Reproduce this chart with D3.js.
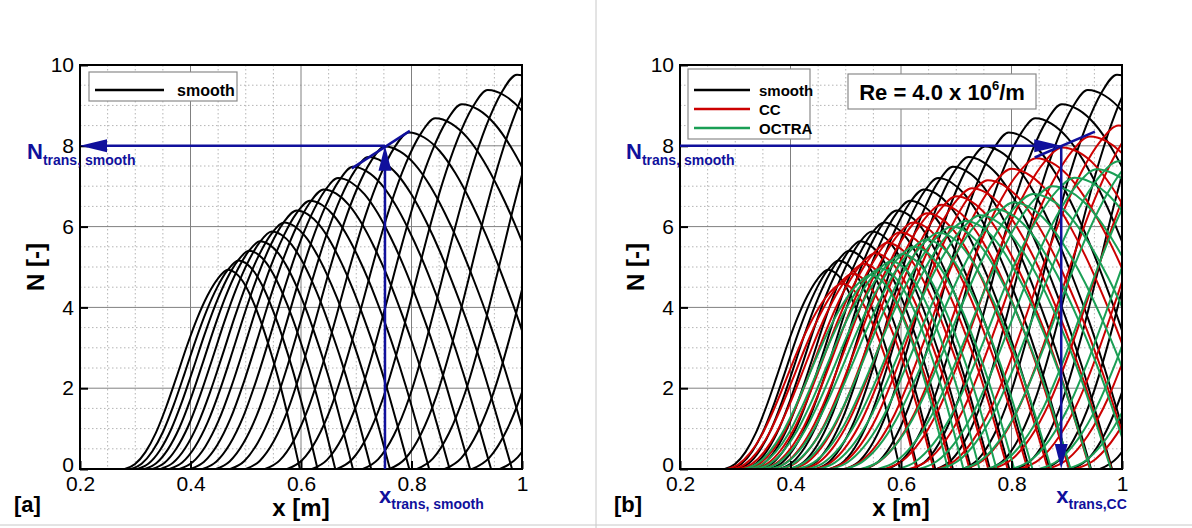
<!DOCTYPE html>
<html><head><meta charset="utf-8">
<script src="https://cdn.jsdelivr.net/npm/d3@7"></script>
<style>
body{margin:0;background:#fff}
svg{display:block}
text{font-family:"Liberation Sans",Arial,Helvetica,sans-serif}
</style>
</head><body>
<svg id="c" width="1192" height="528"></svg>
<script>
// ---------------- data ----------------
const xTicks = [0.2, 0.4, 0.6, 0.8, 1.0];
const xTickLabels = ["0.2", "0.4", "0.6", "0.8", "1"];
const yTicks = [0, 2, 4, 6, 8, 10];
const yTickLabels = ["0", "2", "4", "6", "8", "10"];

// each curve: [start x (N=0), peak x, peak N, end x (N=0)]
const smoothCurves = [
  [0.281,0.468,4.93,0.598],[0.292,0.487,5.16,0.630],[0.304,0.506,5.40,0.662],
  [0.317,0.526,5.64,0.694],[0.331,0.547,5.88,0.727],[0.346,0.569,6.10,0.761],
  [0.362,0.592,6.40,0.796],[0.380,0.616,6.64,0.832],[0.400,0.641,6.92,0.869],
  [0.422,0.667,7.20,0.906],[0.446,0.694,7.48,0.944],[0.472,0.722,7.72,0.982],
  [0.500,0.752,7.98,1.022],[0.535,0.795,8.33,1.075],[0.575,0.843,8.68,1.133],
  [0.620,0.891,9.03,1.191],[0.665,0.938,9.38,1.248],[0.712,0.991,9.76,1.311],
  [0.760,1.045,10.12,1.375],[0.810,1.100,10.48,1.440],[0.860,1.160,10.85,1.510],
  [0.910,1.220,11.20,1.580],[0.960,1.280,11.55,1.650]
];
const ccCurves = [
  [0.285,0.493,4.59,0.628],[0.296,0.512,4.83,0.659],[0.308,0.532,5.08,0.691],
  [0.321,0.553,5.34,0.724],[0.335,0.575,5.60,0.758],[0.350,0.598,5.86,0.793],
  [0.366,0.622,6.10,0.829],[0.384,0.647,6.33,0.866],[0.403,0.673,6.54,0.904],
  [0.424,0.700,6.75,0.942],[0.446,0.728,6.95,0.981],[0.470,0.757,7.15,1.021],
  [0.497,0.800,7.43,1.075],[0.530,0.845,7.69,1.130],[0.570,0.892,7.96,1.187],
  [0.615,0.942,8.23,1.247],[0.665,0.994,8.50,1.309],[0.715,1.050,8.80,1.375],
  [0.765,1.110,9.10,1.445],[0.815,1.170,9.40,1.515],[0.865,1.230,9.70,1.585],
  [0.915,1.290,10.00,1.655]
];
const octraCurves = [
  [0.315,0.545,4.80,0.685],[0.326,0.563,4.96,0.713],[0.338,0.582,5.14,0.742],
  [0.351,0.602,5.32,0.773],[0.365,0.623,5.50,0.805],[0.380,0.645,5.68,0.838],
  [0.396,0.668,5.85,0.872],[0.413,0.692,6.00,0.907],[0.431,0.717,6.14,0.943],
  [0.451,0.743,6.28,0.980],[0.473,0.771,6.43,1.019],[0.498,0.804,6.60,1.064],
  [0.527,0.839,6.81,1.111],[0.558,0.874,7.00,1.158],[0.594,0.914,7.21,1.210],
  [0.632,0.954,7.42,1.261],[0.670,0.994,7.62,1.312],[0.710,1.040,7.85,1.370],
  [0.755,1.090,8.10,1.430],[0.800,1.140,8.35,1.490],[0.850,1.200,8.65,1.560],
  [0.900,1.260,8.95,1.630]
];
// normalised curve shape: [fraction of branch width, N / peak N]
const riseProfile = [[0,0],[0.1,0.025],[0.2,0.085],[0.3,0.18],[0.4,0.31],[0.5,0.46],
  [0.6,0.615],[0.7,0.755],[0.8,0.87],[0.9,0.955],[1,1]];
const fallProfile = [[0,1],[0.1,0.985],[0.2,0.945],[0.3,0.88],[0.4,0.795],[0.5,0.695],
  [0.6,0.58],[0.7,0.455],[0.8,0.315],[0.9,0.16],[1,0]];

const legendA = ["smooth"];
const legendB = ["smooth", "CC", "OCTRA"];
const transA = {x: 0.752, N: 8, tangent: [[0.692, 7.44], [0.797, 8.37]]};
const transB = {x: 0.890, N: 8, tangent: [[0.842, 7.71], [0.951, 8.35]]};

// ---------------- drawing ----------------
const svg = d3.select("#c");
const COL = {smooth: "#000000", CC: "#cc0000", OCTRA: "#1a9f55"};
const BLUE = "#10109c";
const FONT = '"Liberation Sans",Arial,Helvetica,sans-serif';

svg.append("rect").attr("width", 1192).attr("height", 528).attr("fill", "#fff");
svg.append("line").attr("x1", 596).attr("x2", 596).attr("y1", 0).attr("y2", 528)
  .attr("stroke", "#c8c8c8").attr("stroke-width", 1);
svg.append("line").attr("x1", 0).attr("x2", 1192).attr("y1", 525).attr("y2", 525)
  .attr("stroke", "#c8c8c8").attr("stroke-width", 1);

function curvePoints(c) {
  const [x0, xp, np, x1] = c;
  const pts = riseProfile.map(([u, v]) => [x0 + u * (xp - x0), v * np]);
  fallProfile.slice(1).forEach(([u, v]) => pts.push([xp + u * (x1 - xp), v * np]));
  return pts;
}

function arrow(g, tip, dir, len, hw) {
  const [tx, ty] = tip;
  let pts;
  if (dir === "left") pts = [[tx, ty], [tx + len, ty - hw], [tx + len, ty + hw]];
  if (dir === "right") pts = [[tx, ty], [tx - len, ty - hw], [tx - len, ty + hw]];
  if (dir === "up") pts = [[tx, ty], [tx - hw, ty + len], [tx + hw, ty + len]];
  if (dir === "down") pts = [[tx, ty], [tx - hw, ty - len], [tx + hw, ty - len]];
  g.append("polygon").attr("points", pts.map(p => p.join(",")).join(" ")).attr("fill", BLUE);
}

function panel(opt) {
  const L = opt.left, R = opt.right, T = 65, B = 469;
  const x = d3.scaleLinear().domain([0.2, 1]).range([L, R]);
  const y = d3.scaleLinear().domain([0, 10]).range([B, T]);
  const g = svg.append("g");
  const id = "clip" + opt.key;
  svg.append("clipPath").attr("id", id).append("rect")
    .attr("x", L).attr("y", T).attr("width", R - L).attr("height", B - T);

  // minor grid
  const minorX = d3.range(0.25, 1.0, 0.05).filter(v => Math.abs(v / 0.2 - Math.round(v / 0.2)) > 1e-6);
  const minorY = d3.range(0.5, 10, 0.5).filter(v => Math.abs(v / 2 - Math.round(v / 2)) > 1e-6);
  g.selectAll(null).data(minorX).join("line")
    .attr("x1", d => x(d)).attr("x2", d => x(d)).attr("y1", T).attr("y2", B)
    .attr("stroke", "#b4b4b4").attr("stroke-width", 1).attr("stroke-dasharray", "1.5,2.5");
  g.selectAll(null).data(minorY).join("line")
    .attr("y1", d => y(d)).attr("y2", d => y(d)).attr("x1", L).attr("x2", R)
    .attr("stroke", "#b4b4b4").attr("stroke-width", 1).attr("stroke-dasharray", "1.5,2.5");
  // major grid
  g.selectAll(null).data(xTicks.slice(1, -1)).join("line")
    .attr("x1", d => x(d)).attr("x2", d => x(d)).attr("y1", T).attr("y2", B)
    .attr("stroke", "#808080").attr("stroke-width", 1);
  g.selectAll(null).data(yTicks.slice(1, -1)).join("line")
    .attr("y1", d => y(d)).attr("y2", d => y(d)).attr("x1", L).attr("x2", R)
    .attr("stroke", "#808080").attr("stroke-width", 1);

  // curves
  const line = d3.line().x(d => x(d[0])).y(d => y(d[1])).curve(d3.curveMonotoneX);
  const cg = g.append("g").attr("clip-path", `url(#${id})`);
  opt.families.forEach(f => {
    cg.append("g").selectAll("path").data(f.curves).join("path")
      .attr("d", c => line(curvePoints(c)))
      .attr("fill", "none").attr("stroke", COL[f.name]).attr("stroke-width", 2);
  });

  // frame
  g.append("rect").attr("x", L).attr("y", T).attr("width", R - L).attr("height", B - T)
    .attr("fill", "none").attr("stroke", "#000").attr("stroke-width", 2);

  // axes
  const ax = g.append("g").attr("transform", `translate(0,${B})`)
    .call(d3.axisBottom(x).tickValues(xTicks).tickFormat((d, i) => xTickLabels[i])
      .tickSizeInner(-8).tickSizeOuter(0).tickPadding(7));
  const ay = g.append("g").attr("transform", `translate(${L},0)`)
    .call(d3.axisLeft(y).tickValues(yTicks).tickFormat((d, i) => yTickLabels[i])
      .tickSizeInner(-8).tickSizeOuter(0).tickPadding(6));
  [ax, ay].forEach(a => {
    a.select(".domain").remove();
    a.selectAll(".tick line").attr("stroke", "#000").attr("stroke-width", 2);
    a.selectAll("text").attr("font-family", FONT).attr("font-size", 21).attr("fill", "#000");
  });
  ay.selectAll(".tick").filter(d => d === 0).select("text").attr("dy", "0.1em");

  // titles
  g.append("text").attr("x", (L + R) / 2).attr("y", 516).attr("text-anchor", "middle")
    .attr("font-size", 24).attr("font-weight", "bold").text("x [m]");
  g.append("text").attr("transform", `translate(${L - 36},${(T + B) / 2}) rotate(-90)`)
    .attr("text-anchor", "middle").attr("font-size", 24).attr("font-weight", "bold").text("N [-]");
  g.append("text").attr("x", L - 66).attr("y", 512).attr("font-size", 22)
    .attr("font-weight", "bold").text(opt.tag);

  // legend
  const lg = g.append("g");
  const items = opt.legend;
  const lx = L + opt.legendDX, ly = T + opt.legendDY, lw = opt.legendW, lh = opt.legendH;
  lg.append("rect").attr("x", lx).attr("y", ly).attr("width", lw).attr("height", lh)
    .attr("fill", "#fff").attr("stroke", "#8a8a8a").attr("stroke-width", 1.2);
  items.forEach((name, i) => {
    const yy = ly + opt.firstY + i * 19;
    lg.append("line").attr("x1", lx + 6).attr("x2", lx + opt.lineLen).attr("y1", yy).attr("y2", yy)
      .attr("stroke", COL[name]).attr("stroke-width", 2.5);
    lg.append("text").attr("x", lx + opt.textX).attr("y", yy + 5.5).attr("font-size", opt.fs)
      .attr("font-weight", "bold").text(name);
  });

  return {x, y, g, L, R, T, B};
}

// ---------- panel a ----------
const A = panel({key: "a", left: 80, right: 522, tag: "[a]",
  families: [{name: "smooth", curves: smoothCurves}],
  legend: legendA, legendDX: 9, legendDY: 7, legendW: 148, legendH: 29, firstY: 18,
  lineLen: 75, textX: 88, fs: 16});
{
  const {x, y, g} = A;
  const ag = g.append("g");
  ag.append("line").attr("x1", x(transA.tangent[0][0])).attr("y1", y(transA.tangent[0][1]))
    .attr("x2", x(transA.tangent[1][0])).attr("y2", y(transA.tangent[1][1]))
    .attr("stroke", BLUE).attr("stroke-width", 2.5);
  ag.append("line").attr("x1", x(transA.x)).attr("x2", x(transA.x)).attr("y1", y(0)).attr("y2", y(transA.N) + 20)
    .attr("stroke", BLUE).attr("stroke-width", 2.5);
  ag.append("line").attr("x1", x(transA.x)).attr("x2", x(0.2) + 20).attr("y1", y(transA.N)).attr("y2", y(transA.N))
    .attr("stroke", BLUE).attr("stroke-width", 2.5);
  arrow(ag, [x(transA.x), y(transA.N)], "up", 25, 6.5);
  arrow(ag, [x(0.2), y(transA.N)], "left", 27, 6.5);
  const t1 = ag.append("text").attr("x", 27).attr("y", 159).attr("fill", BLUE).attr("font-weight", "bold");
  t1.append("tspan").attr("font-size", 22).text("N");
  t1.append("tspan").attr("font-size", 14).attr("dy", 6).text("trans, smooth");
  const t2 = ag.append("text").attr("x", x(transA.x) - 6).attr("y", 503).attr("fill", BLUE).attr("font-weight", "bold");
  t2.append("tspan").attr("font-size", 22).text("x");
  t2.append("tspan").attr("font-size", 14).attr("dy", 6).text("trans, smooth");
}

// ---------- panel b ----------
const Bp = panel({key: "b", left: 680, right: 1122, tag: "[b]",
  families: [{name: "smooth", curves: smoothCurves}, {name: "CC", curves: ccCurves},
             {name: "OCTRA", curves: octraCurves}],
  legend: legendB, legendDX: 8, legendDY: 4, legendW: 122, legendH: 70, firstY: 21,
  lineLen: 62, textX: 71, fs: 15});
{
  const {x, y, g} = Bp;
  const ag = g.append("g");
  ag.append("rect").attr("x", 848).attr("y", 74).attr("width", 188).attr("height", 35)
    .attr("fill", "#fff").attr("stroke", "#8a8a8a").attr("stroke-width", 1.2);
  const re = ag.append("text").attr("x", 942).attr("y", 100).attr("text-anchor", "middle")
    .attr("font-size", 22).attr("font-weight", "bold").attr("fill", "#000");
  re.append("tspan").text("Re = 4.0 x 10");
  re.append("tspan").attr("font-size", 13).attr("dy", -10).text("6");
  re.append("tspan").attr("dy", 10).text("/m");

  ag.append("line").attr("x1", x(transB.tangent[0][0])).attr("y1", y(transB.tangent[0][1]))
    .attr("x2", x(transB.tangent[1][0])).attr("y2", y(transB.tangent[1][1]))
    .attr("stroke", BLUE).attr("stroke-width", 2.5);
  ag.append("line").attr("x1", x(0.2)).attr("x2", x(transB.x) - 20).attr("y1", y(transB.N)).attr("y2", y(transB.N))
    .attr("stroke", BLUE).attr("stroke-width", 2.5);
  ag.append("line").attr("x1", x(transB.x)).attr("x2", x(transB.x)).attr("y1", y(transB.N)).attr("y2", y(0) - 20)
    .attr("stroke", BLUE).attr("stroke-width", 2.5);
  arrow(ag, [x(transB.x), y(transB.N)], "right", 27, 6.5);
  arrow(ag, [x(transB.x), y(0)], "down", 25, 6.5);
  const t1 = ag.append("text").attr("x", 626).attr("y", 159).attr("fill", BLUE).attr("font-weight", "bold");
  t1.append("tspan").attr("font-size", 22).text("N");
  t1.append("tspan").attr("font-size", 14).attr("dy", 6).text("trans, smooth");
  const t2 = ag.append("text").attr("x", x(transB.x) - 5).attr("y", 503).attr("fill", BLUE).attr("font-weight", "bold");
  t2.append("tspan").attr("font-size", 22).text("x");
  t2.append("tspan").attr("font-size", 14).attr("dy", 6).text("trans,CC");
}
</script>
</body></html>
